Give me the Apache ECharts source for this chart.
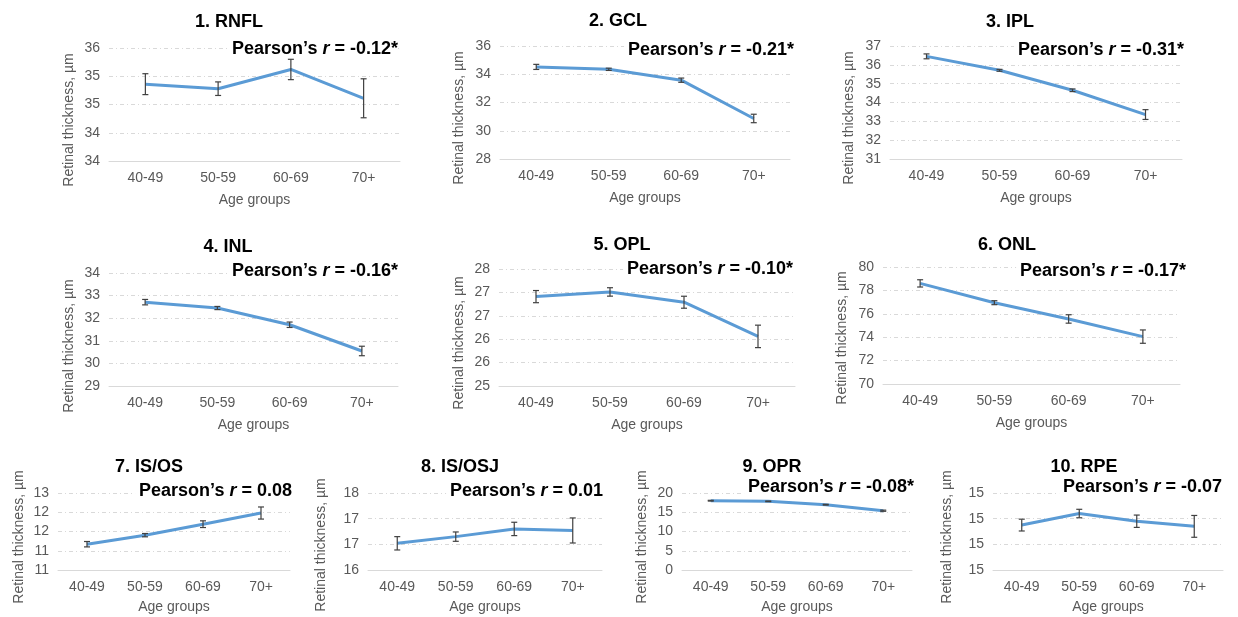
<!DOCTYPE html>
<html>
<head>
<meta charset="utf-8">
<script src="https://cdn.jsdelivr.net/npm/echarts@6/dist/echarts.min.js"></script>
<style>
html,body{margin:0;padding:0;background:#fff;}
#chart{width:1238px;height:617px;}
</style>
</head>
<body>
<div id="chart"></div>
<script>
// ---- data ----
const categories = ['40-49', '50-59', '60-69', '70+'];
const panelTitles = ['1. RNFL', '2. GCL', '3. IPL', '4. INL', '5. OPL', '6. ONL', '7. IS/OS', '8. IS/OSJ', '9. OPR', '10. RPE'];
const pearsonR = ['-0.12*', '-0.21*', '-0.31*', '-0.16*', '-0.10*', '-0.17*', '0.08', '0.01', '-0.08*', '-0.07'];

const rnflMean = [34.86, 34.78, 35.12, 34.61];
const rnflErr  = [0.185, 0.12, 0.18, 0.345];
const gclMean  = [34.52, 34.35, 33.58, 30.87];
const gclErr   = [0.18, 0.08, 0.15, 0.30];
const iplMean  = [36.45, 35.71, 34.65, 33.36];
const iplErr   = [0.13, 0.05, 0.07, 0.26];
const inlMean  = [32.71, 32.45, 31.71, 30.55];
const inlErr   = [0.12, 0.07, 0.12, 0.21];
const oplMean  = [26.91, 27.01, 26.79, 26.06];
const oplErr   = [0.13, 0.09, 0.128, 0.24];
const onlMean  = [78.60, 76.95, 75.56, 74.05];
const onlErr   = [0.31, 0.17, 0.36, 0.57];
const isosMean = [11.17, 11.405, 11.69, 11.98];
const isosErr  = [0.07, 0.043, 0.087, 0.157];
const isosjMean = [16.52, 16.65, 16.80, 16.77];
const isosjErr  = [0.13, 0.091, 0.13, 0.244];
const oprMean  = [18.0, 17.83, 16.96, 15.4];
const oprErr   = [0.1, 0.08, 0.1, 0.15];
const rpeMean  = [14.95, 15.04, 14.98, 14.94];
const rpeErr   = [0.046, 0.033, 0.048, 0.085];

const rnflTicks  = ['34', '34', '35', '35', '36'];
const gclTicks   = ['28', '30', '32', '34', '36'];
const iplTicks   = ['31', '32', '33', '34', '35', '36', '37'];
const inlTicks   = ['29', '30', '31', '32', '33', '34'];
const oplTicks   = ['25', '26', '26', '27', '27', '28'];
const onlTicks   = ['70', '72', '74', '76', '78', '80'];
const isosTicks  = ['11', '11', '12', '12', '13'];
const isosjTicks = ['16', '17', '17', '18'];
const oprTicks   = ['0', '5', '10', '15', '20'];
const rpeTicks   = ['15', '15', '15', '15'];

const axisMin  = [33.5, 28, 31, 29, 25, 70, 10.5, 16, 0, 14.6];
const axisStep = [0.5, 2, 1, 1, 0.5, 2, 0.5, 0.5, 5, 0.2];

const means = [rnflMean, gclMean, iplMean, inlMean, oplMean, onlMean, isosMean, isosjMean, oprMean, rpeMean];
const errs  = [rnflErr, gclErr, iplErr, inlErr, oplErr, onlErr, isosErr, isosjErr, oprErr, rpeErr];
const ticks = [rnflTicks, gclTicks, iplTicks, inlTicks, oplTicks, onlTicks, isosTicks, isosjTicks, oprTicks, rpeTicks];

// ---- layout ----
const grids = [
  {left: 109, top: 48, width: 291, height: 113},
  {left: 500, top: 46, width: 290, height: 113},
  {left: 890, top: 46, width: 292, height: 113},
  {left: 109, top: 273, width: 289, height: 113},
  {left: 499, top: 269, width: 296, height: 117},
  {left: 883, top: 267, width: 297, height: 117},
  {left: 58, top: 493, width: 232, height: 77},
  {left: 368, top: 493, width: 234, height: 77},
  {left: 682, top: 493, width: 230, height: 77},
  {left: 993, top: 493, width: 230, height: 77}
];
const titlePos   = [[229,22],[618,21],[1010,22],[228,247],[622,245],[1007,245],[149,467],[460,467],[772,467],[1084,467]];
const pearsonPos = [[398,49],[794,50],[1184,50],[398,271],[793,269],[1186,271],[292,491],[603,491],[914,487],[1222,487]];
const yNamePos   = [[69,120],[459,118],[849,118],[69,346],[459,343],[842,338],[19,537],[321,545],[642,537],[947,537]];

const FONT = '"Liberation Sans", Arial, sans-serif';
const GRAY = '#595959';

const option = {
  backgroundColor: '#fff',
  animation: false,
  grid: grids.map(g => Object.assign({containLabel: false}, g)),
  xAxis: [], yAxis: [], series: [], graphic: []
};

for (let i = 0; i < 10; i++) {
  const min = axisMin[i], step = axisStep[i], labs = ticks[i];
  const max = min + step * (labs.length - 1);
  option.xAxis.push({
    type: 'category', gridIndex: i, data: categories, boundaryGap: true,
    name: 'Age groups', nameLocation: 'middle', nameGap: i < 6 ? 32 : 30,
    nameTextStyle: {color: GRAY, fontSize: 14, fontFamily: FONT},
    axisLine: {lineStyle: {color: '#d9d9d9', width: 1}},
    axisTick: {show: false},
    axisLabel: {color: GRAY, fontSize: 14, fontFamily: FONT, margin: 10},
    splitLine: {show: false}
  });
  option.yAxis.push({
    type: 'value', gridIndex: i, min: min, max: max, interval: step,
    axisLine: {show: false}, axisTick: {show: false},
    axisLabel: {
      color: GRAY, fontSize: 14, fontFamily: FONT, margin: 9,
      formatter: (v) => labs[Math.round((v - min) / step)]
    },
    splitLine: {lineStyle: {color: '#d9d9d9', width: 1, type: [4, 3, 1, 3]}}
  });
  option.series.push({
    type: 'line', xAxisIndex: i, yAxisIndex: i, data: means[i],
    symbol: 'none', lineStyle: {color: '#5B9BD5', width: 3}, z: 2
  });
  option.series.push({
    type: 'custom', xAxisIndex: i, yAxisIndex: i, z: 3,
    data: means[i].map((m, k) => [k, m, errs[i][k]]),
    renderItem: function (params, api) {
      const x = api.value(0), m = api.value(1), e = api.value(2);
      const top = api.coord([x, m + e]);
      const bot = api.coord([x, m - e]);
      const st = {stroke: '#404040', lineWidth: 1.2};
      return {type: 'group', children: [
        {type: 'line', shape: {x1: top[0], y1: top[1], x2: bot[0], y2: bot[1]}, style: st},
        {type: 'line', shape: {x1: top[0] - 3, y1: top[1], x2: top[0] + 3, y2: top[1]}, style: st},
        {type: 'line', shape: {x1: bot[0] - 3, y1: bot[1], x2: bot[0] + 3, y2: bot[1]}, style: st}
      ]};
    }
  });
  option.graphic.push({
    type: 'text', x: titlePos[i][0], y: titlePos[i][1], z: 100,
    style: {text: panelTitles[i], fill: '#000', font: 'bold 18px ' + FONT, align: 'center', verticalAlign: 'middle'}
  });
  option.graphic.push({
    type: 'text', x: pearsonPos[i][0], y: pearsonPos[i][1], z: 100,
    style: {
      text: 'Pearson’s {i|r} = ' + pearsonR[i], fill: '#000',
      font: 'bold 18px ' + FONT, align: 'right', verticalAlign: 'middle',
      backgroundColor: '#fff', padding: [0, 0, 0, 4],
      rich: {i: {fontStyle: 'italic', fontWeight: 'bold', fontSize: 18, fontFamily: FONT, fill: '#000'}}
    }
  });
  option.graphic.push({
    type: 'text', x: yNamePos[i][0], y: yNamePos[i][1], rotation: Math.PI / 2, z: 100,
    style: {text: 'Retinal thickness, µm', fill: GRAY, font: '14px ' + FONT, align: 'center', verticalAlign: 'middle'}
  });
}

const chart = echarts.init(document.getElementById('chart'), null, {renderer: 'canvas'});
chart.setOption(option);
</script>
</body>
</html>
